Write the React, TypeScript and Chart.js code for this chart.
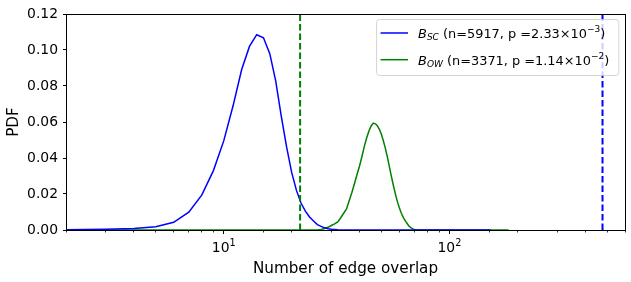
import React, { useEffect, useRef } from 'react';
import { Chart, registerables } from 'chart.js';

Chart.register(...registerables);

// ---- data ----
const bscEdges = [2, 3, 4, 5, 6, 7, 8, 9, 10, 11, 12, 13, 14, 15, 16, 17, 18, 19, 20, 21, 22, 23, 24, 25, 26, 27, 28, 29, 30, 32, 35, 50, 80, 152];
const bscPdf = [0.0002, 0.0004, 0.0008, 0.0018, 0.0043, 0.0099, 0.0195, 0.033, 0.0495, 0.069, 0.089, 0.102, 0.1085, 0.1068, 0.098, 0.0827, 0.063, 0.046, 0.032, 0.022, 0.015, 0.0105, 0.0072, 0.005, 0.003, 0.002, 0.0012, 0.0007, 0.0004, 0.0001, 0, 0, 0, 0];

const bowEdges = [2, 10, 20, 26, 27, 28, 29, 30, 31, 32, 33, 34, 35, 36, 37, 38, 39, 40, 41, 42, 43, 44, 45, 46, 47, 48, 49, 50, 51, 52, 53, 54, 55, 56, 57, 58, 59, 60, 61, 62, 63, 64, 65, 66, 67, 68, 69, 70, 72, 75, 100, 183];
const bowPdf = [0, 0, 0, 0, 0.0003, 0.0008, 0.0015, 0.0025, 0.0034, 0.0045, 0.0068, 0.0093, 0.0117, 0.0164, 0.021, 0.026, 0.031, 0.0357, 0.041, 0.0466, 0.0512, 0.055, 0.0578, 0.0594, 0.059, 0.0578, 0.0558, 0.053, 0.0494, 0.0455, 0.041, 0.0362, 0.0313, 0.0268, 0.0225, 0.0187, 0.0152, 0.0124, 0.0099, 0.0078, 0.0062, 0.0048, 0.0036, 0.0024, 0.0016, 0.001, 0.0006, 0.0003, 0.0001, 0, 0, 0];

const thresholdBow = 21.8;
const thresholdBsc = 477;

const xRange = [2, 600];
const yRange = [0, 0.12];
const yStep = 0.02;

const legendLabels = [
  { sub: 'SC', n: '5917', p: '2.33', exp: '\u22123' },
  { sub: 'OW', n: '3371', p: '1.14', exp: '\u22122' },
];
const xTitle = 'Number of edge overlap';
const yTitle = 'PDF';

const BLUE = '#0000ff';
const GREEN = '#008000';
const FONT = '"DejaVu Sans"';

function toPoints(xs: number[], ys: number[]) {
  return xs.map((x, i) => ({ x, y: ys[i] }));
}

type Seg = { t: string; it?: boolean; sub?: boolean; sup?: boolean };

function drawSegs(ctx: CanvasRenderingContext2D, segs: Seg[], x: number, y: number, size: number, measureOnly = false) {
  let cx = x;
  for (const s of segs) {
    const sz = s.sub || s.sup ? size * 0.7 : size;
    ctx.font = `${s.it ? 'italic ' : ''}${sz}px ${FONT}`;
    let dy = 0;
    if (s.sub) dy = size * 0.16;
    if (s.sup) dy = -size * 0.45;
    if (!measureOnly) ctx.fillText(s.t, cx, y + dy);
    cx += ctx.measureText(s.t).width;
  }
  return cx - x;
}

const overlay = {
  id: 'overlay',
  afterDraw(chart: any) {
    const { ctx, chartArea: a, scales } = chart;
    const xs = scales.x;
    const ys = scales.y;
    const L = Math.floor(a.left) + 0.5;
    const R = Math.floor(a.right) + 0.5;
    const T = Math.floor(a.top) + 0.5;
    const B = Math.floor(a.bottom) + 0.5;
    ctx.save();
    // frame
    ctx.strokeStyle = '#000';
    ctx.lineWidth = 1;
    ctx.strokeRect(L, T, R - L, B - T);
    // x ticks
    for (const t of xs.ticks) {
      const lg = Math.log10(t.value);
      const major = Math.abs(lg - Math.round(lg)) < 1e-9;
      const px = Math.floor(xs.getPixelForValue(t.value)) + 0.5;
      if (px < L - 0.1 || px > R + 0.1) continue;
      ctx.lineWidth = major ? 1 : 0.8;
      ctx.beginPath();
      ctx.moveTo(px, B);
      ctx.lineTo(px, B + (major ? 3.5 : 2));
      ctx.stroke();
      if (major) {
        const segs: Seg[] = [{ t: '10' }, { t: String(Math.round(lg)), sup: true }];
        ctx.fillStyle = '#000';
        ctx.textBaseline = 'alphabetic';
        ctx.textAlign = 'left';
        const w = drawSegs(ctx, segs, 0, 0, 13.9, true);
        drawSegs(ctx, segs, xs.getPixelForValue(t.value) - w / 2, a.bottom + 22, 13.9);
      }
    }
    // y ticks
    ctx.lineWidth = 1;
    for (const t of ys.ticks) {
      const py = Math.floor(ys.getPixelForValue(t.value)) + 0.5;
      ctx.beginPath();
      ctx.moveTo(L - 3.5, py);
      ctx.lineTo(L, py);
      ctx.stroke();
    }
    // legend
    const fs = 12.9;
    const entries: Seg[][] = legendLabels.map((l) => [
      { t: 'B', it: true },
      { t: l.sub, it: true, sub: true },
      { t: ` (n=${l.n}, p =` },
      { t: `${l.p}\u00d710` },
      { t: l.exp, sup: true },
      { t: ')' },
    ]);
    const widths = entries.map((e) => drawSegs(ctx, e, 0, 0, fs, true));
    const textW = Math.max(...widths);
    const boxRight = a.right - 6.7;
    const boxTop = a.top + 5;
    const boxW = 42 + textW + 9;
    const boxH = 56;
    const boxLeft = boxRight - boxW;
    ctx.beginPath();
    if ((ctx as any).roundRect) (ctx as any).roundRect(boxLeft + 0.5, boxTop + 0.5, boxW, boxH, 3);
    else ctx.rect(boxLeft + 0.5, boxTop + 0.5, boxW, boxH);
    ctx.fillStyle = 'rgba(255,255,255,0.8)';
    ctx.fill();
    ctx.strokeStyle = 'rgba(204,204,204,0.8)';
    ctx.lineWidth = 1;
    ctx.stroke();
    const colors = [BLUE, GREEN];
    entries.forEach((e, i) => {
      const cy = boxTop + 14 + i * 26.7;
      ctx.strokeStyle = colors[i];
      ctx.lineWidth = 1.5;
      ctx.beginPath();
      ctx.moveTo(boxLeft + 4.5, cy);
      ctx.lineTo(boxLeft + 32, cy);
      ctx.stroke();
      ctx.fillStyle = '#000';
      ctx.textBaseline = 'alphabetic';
      ctx.textAlign = 'left';
      drawSegs(ctx, e, boxLeft + 42, cy + 5, fs);
    });
    ctx.restore();
  },
};

export default function App() {
  const ref = useRef<HTMLCanvasElement | null>(null);
  useEffect(() => {
    if (!ref.current) return;
    const chart = new Chart(ref.current, {
      type: 'line',
      data: {
        datasets: [
          { data: toPoints([thresholdBsc, thresholdBsc], yRange), borderColor: BLUE, borderWidth: 2, borderDash: [6.6, 2.9], pointRadius: 0, fill: false },
          { data: toPoints([thresholdBow, thresholdBow], yRange), borderColor: GREEN, borderWidth: 2, borderDash: [6.6, 2.9], pointRadius: 0, fill: false },
          { data: toPoints(bscEdges, bscPdf), borderColor: BLUE, borderWidth: 1.5, pointRadius: 0, tension: 0, fill: false },
          { data: toPoints(bowEdges, bowPdf), borderColor: GREEN, borderWidth: 1.5, pointRadius: 0, tension: 0, fill: false },
        ],
      },
      options: {
        animation: false,
        responsive: false,
        devicePixelRatio: 1,
        parsing: true,
        layout: { padding: { top: 14, right: 6, left: 0, bottom: 0 } },
        plugins: { legend: { display: false }, tooltip: { enabled: false } },
        scales: {
          x: {
            type: 'logarithmic',
            min: xRange[0],
            max: xRange[1],
            grid: { display: false, drawTicks: false, tickLength: 0 },
            border: { display: false },
            ticks: { display: false },
            title: { display: true, text: xTitle, color: '#000', font: { family: 'DejaVu Sans', size: 15.2 }, padding: { top: 0, bottom: 4 } },
            afterFit: (s: any) => { s.height = 52; s.paddingLeft = 0; s.paddingRight = 0; },
          },
          y: {
            type: 'linear',
            min: yRange[0],
            max: yRange[1],
            grid: { display: false, drawTicks: false, tickLength: 0 },
            border: { display: false },
            ticks: {
              stepSize: yStep,
              padding: 8,
              color: '#000',
              font: { family: 'DejaVu Sans', size: 13.9 },
              callback: (v: any) => Number(v).toFixed(2),
            },
            title: { display: true, text: yTitle, color: '#000', font: { family: 'DejaVu Sans', size: 15.2 }, padding: { top: 4.5, bottom: 0 } },
            afterFit: (s: any) => { s.width = 66; s.paddingTop = 0; s.paddingBottom = 0; },
          },
        },
      },
      plugins: [overlay],
    });
    return () => chart.destroy();
  }, []);
  return (
    <div style={{ position: 'absolute', left: 0, top: 0, width: 631, height: 282, background: '#fff' }}>
      <canvas ref={ref} width={631} height={282} style={{ display: 'block' }} />
    </div>
  );
}
